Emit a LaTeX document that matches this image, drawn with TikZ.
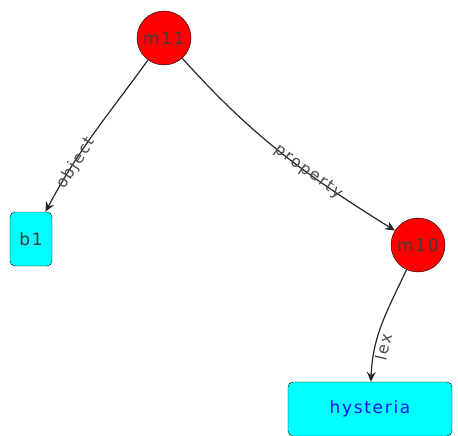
\documentclass[tikz,border=0pt]{standalone}
\usepackage{fontspec}
\setmainfont{DejaVu Sans}[LetterSpace=10]
\usetikzlibrary{arrows.meta}

\definecolor{nodetext}{RGB}{60,60,60}
\definecolor{arctext}{RGB}{75,75,75}
\definecolor{basecyan}{RGB}{0,255,255}
\definecolor{molred}{RGB}{255,0,0}
\definecolor{lextext}{RGB}{20,20,240}

\begin{document}
\begin{tikzpicture}[x=1pt,y=1pt,
    molnode/.style={circle,draw=black,fill=molred,minimum size=54pt,inner sep=0pt,
                    text=nodetext,font=\fontsize{17}{17}\selectfont},
    basenode/.style={rectangle,rounded corners=5pt,draw=black,fill=basecyan,
                     minimum height=54pt,inner sep=0pt,font=\fontsize{17}{17}\selectfont},
    arc/.style={draw=black!85,line width=1.2pt,-{Stealth[length=10pt,width=9pt,inset=3.5pt]}},
    arclabel/.style={sloped,text=arctext,inner sep=0pt,font=\fontsize{16}{16}\selectfont}]

    \useasboundingbox (0,0) rectangle (458,-436);

    % Place the molecular nodes
    \node[molnode] (m11) at (164,-38) {m11};
    \node[molnode] (m10) at (418,-245) {m10};

    % Place the base nodes
    \node[basenode,minimum width=42pt,text=nodetext] (b1) at (31,-239) {b1};
    \node[basenode,minimum width=164pt,text=lextext] (hysteria) at (370,-409) {hysteria};

    % Draw the arcs
    \draw[arc] (m11) to[out=234,in=62]
        node[arclabel,pos=0.7,yshift=-2pt] {object} (b1);
    \draw[arc] (m11) to[out=-48,in=148]
        node[arclabel,pos=0.63,yshift=1pt] {property} (m10);
    \draw[arc] (m10) to[out=245,in=88]
        node[arclabel,pos=0.7,yshift=-8pt] {lex} (hysteria);

\end{tikzpicture}
\end{document}
